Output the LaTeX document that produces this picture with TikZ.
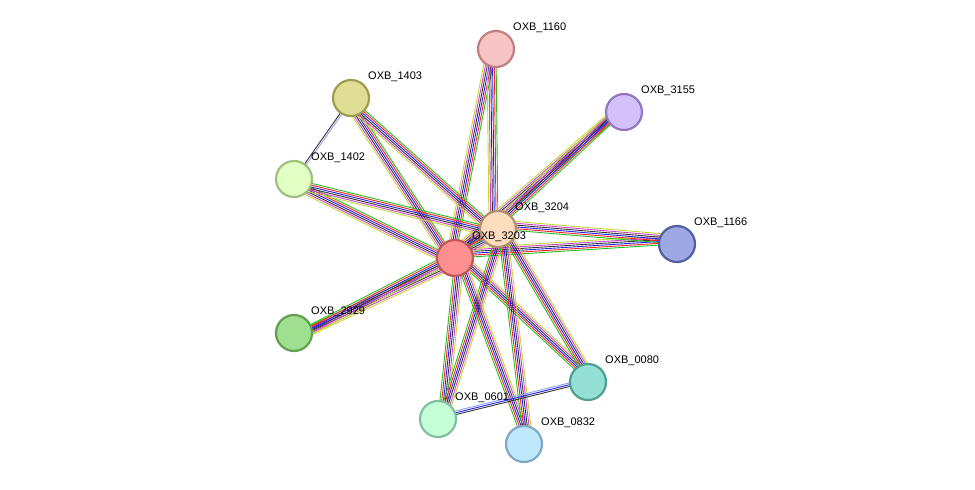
\documentclass[tikz,border=0pt]{standalone}
\usepackage{fontspec}
\setmainfont{Liberation Sans}
\usetikzlibrary{calc}
\definecolor{cg}{HTML}{22C022}
\definecolor{cr}{HTML}{FF2020}
\definecolor{cb}{HTML}{2020FF}
\definecolor{ck}{HTML}{333333}
\definecolor{cm}{HTML}{D040D0}
\definecolor{cy}{HTML}{C0D830}
\definecolor{cl}{HTML}{8FA0F0}
\newcommand{\bund}[3]{%
  \foreach \col [count=\i] in {#3} {
    \pgfmathsetmacro{\off}{1.8*(\i-1)}
    \draw[line width=0.9pt,draw=\col] ($(#1)!\off pt!90:(#2)$) -- ($(#2)!\off pt!-90:(#1)$);
  }}
\tikzset{nd/.style={circle,minimum size=36pt,inner sep=0pt,line width=2.2pt},
lb/.style={anchor=south west,font=\fontsize{11}{11}\selectfont,inner sep=1pt}}
\begin{document}
\begin{tikzpicture}[x=1pt,y=-1pt]
\useasboundingbox (0,0) rectangle (975,490);
\coordinate (p3203) at (455,258);
\coordinate (p3204) at (498,229);
\coordinate (p1160) at (496,49);
\coordinate (p3155) at (624,112);
\coordinate (p1403) at (351,98);
\coordinate (p1402) at (294,179);
\coordinate (p1166) at (677,244);
\coordinate (p2929) at (294,333);
\coordinate (p0080) at (588,382);
\coordinate (p0601) at (438,419);
\coordinate (p0832) at (524,444);
\foreach \t in {1160,3155,1403,1402,1166,2929,0080,0601,0832}{
  \bund{p3203}{p\t}{cg,cr,cb,ck,cm,cy}
  \bund{p3204}{p\t}{cg,cr,cb,ck,cm,cy}
}
\bund{p3203}{p3204}{cg,cr,cb,ck,cm,cy}
\bund{p1403}{p1402}{ck,cl}
\bund{p0601}{p0080}{ck,cb,cl}
\node[nd,fill={rgb,255:red,255;green,144;blue,144},draw={rgb,255:red,192;green,88;blue,88}] (n3203) at (p3203) {};
\node[nd,fill={rgb,255:red,253;green,221;blue,190},draw={rgb,255:red,176;green,144;blue,112}] (n3204) at (p3204) {};
\node[nd,fill={rgb,255:red,246;green,196;blue,196},draw={rgb,255:red,192;green,128;blue,128}] (n1160) at (p1160) {};
\node[nd,fill={rgb,255:red,212;green,192;blue,250},draw={rgb,255:red,144;green,120;blue,192}] (n3155) at (p3155) {};
\node[nd,fill={rgb,255:red,224;green,222;blue,150},draw={rgb,255:red,160;green,156;blue,80}] (n1403) at (p1403) {};
\node[nd,fill={rgb,255:red,226;green,255;blue,196},draw={rgb,255:red,160;green,192;blue,128}] (n1402) at (p1402) {};
\node[nd,fill={rgb,255:red,158;green,168;blue,228},draw={rgb,255:red,80;green,96;blue,160}] (n1166) at (p1166) {};
\node[nd,fill={rgb,255:red,160;green,222;blue,144},draw={rgb,255:red,96;green,160;blue,80}] (n2929) at (p2929) {};
\node[nd,fill={rgb,255:red,148;green,224;blue,214},draw={rgb,255:red,80;green,160;blue,144}] (n0080) at (p0080) {};
\node[nd,fill={rgb,255:red,196;green,255;blue,216},draw={rgb,255:red,128;green,192;blue,160}] (n0601) at (p0601) {};
\node[nd,fill={rgb,255:red,192;green,232;blue,252},draw={rgb,255:red,128;green,168;blue,196}] (n0832) at (p0832) {};
\foreach \t/\s in {3203/OXB\_3203,3204/OXB\_3204,1160/OXB\_1160,3155/OXB\_3155,1403/OXB\_1403,1402/OXB\_1402,1166/OXB\_1166,2929/OXB\_2929,0080/OXB\_0080,0601/OXB\_0601,0832/OXB\_0832}
  \node[lb] (l\t) at ($(p\t)+(16,-15)$) {\s};
\end{tikzpicture}
\end{document}
